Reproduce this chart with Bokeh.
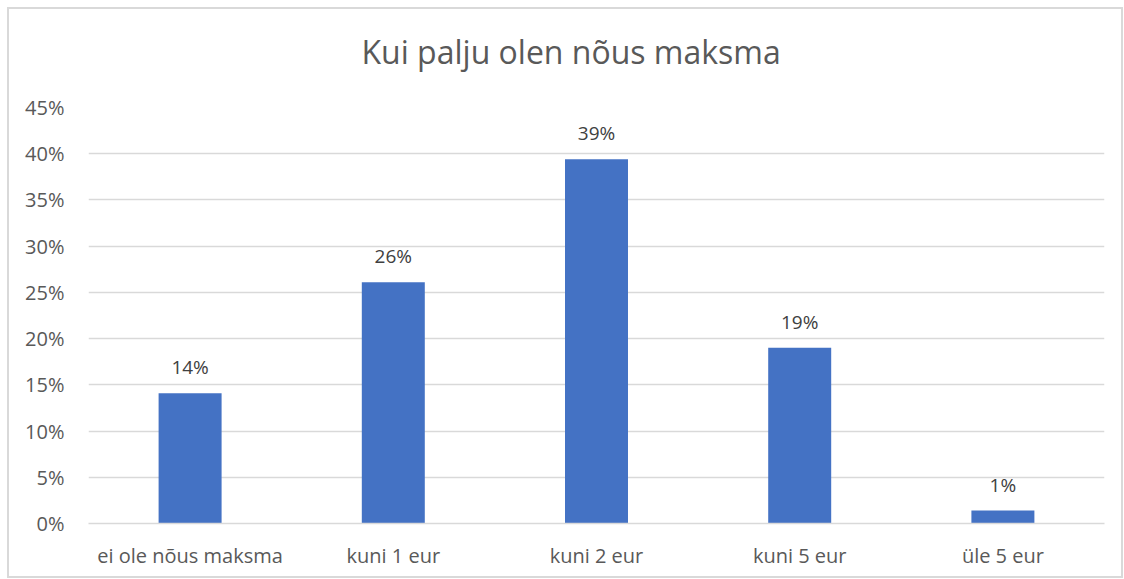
from bokeh.plotting import figure
from bokeh.models import ColumnDataSource, NumeralTickFormatter, FixedTicker, Range1d, Title
from bokeh.core.properties import value
from bokeh.embed import file_html
from bokeh.resources import INLINE

categories = ["ei ole nõus maksma", "kuni 1 eur", "kuni 2 eur", "kuni 5 eur", "üle 5 eur"]
shares = [0.141, 0.261, 0.394, 0.190, 0.014]
labels = ["14%", "26%", "39%", "19%", "1%"]
yticks = [0.0, 0.05, 0.10, 0.15, 0.20, 0.25, 0.30, 0.35, 0.40, 0.45]
title_text = "Kui palju olen nõus maksma"

FONT = "Open Sans"
src = ColumnDataSource(dict(cat=categories, val=shares, lab=labels))

p = figure(x_range=categories, y_range=Range1d(0, 0.45),
           width=1116, height=571, output_backend="svg", toolbar_location=None,
           min_border_left=79, min_border_right=21, min_border_top=98, min_border_bottom=57,
           title=title_text)
p.styles = {"border": "2px solid #D9D9D9", "box-sizing": "border-box",
            "margin-left": "7px", "margin-top": "7px"}

# empty spacer between the title and the plot frame
spacer = Title(text=" ", text_font_size="10px", standoff=22, text_color="#FFFFFF")
p.add_layout(spacer, "above")

p.title.align = "left"
p.title.text_font = FONT
p.title.text_font_size = "32px"
p.title.text_font_style = "normal"
p.title.text_color = "#595959"
p.title.offset = 273
p.title.standoff = 0

p.vbar(x="cat", top="val", width=0.31, source=src, color="#4472C4", line_color=None)
p.text(x="cat", y="val", text="lab", source=src, text_align="center", text_baseline="bottom",
       y_offset=-13, text_font=value(FONT), text_font_size="19px", text_color="#404040")

p.outline_line_color = None
p.xgrid.grid_line_color = None
p.ygrid.grid_line_color = "#D9D9D9"
p.ygrid.grid_line_width = 1.5
p.yaxis.ticker = FixedTicker(ticks=yticks)
p.yaxis.formatter = NumeralTickFormatter(format="0%")
p.yaxis.axis_line_color = None
p.yaxis.major_tick_line_color = None
p.yaxis.minor_tick_line_color = None
p.yaxis.major_label_standoff = 18
p.xaxis.axis_line_color = "#D9D9D9"
p.xaxis.axis_line_width = 1.5
p.xaxis.major_tick_line_color = None
p.xaxis.minor_tick_line_color = None
p.xaxis.major_label_standoff = 12
for ax in (p.xaxis, p.yaxis):
    ax.major_label_text_font = FONT
    ax.major_label_text_font_size = "20px"
    ax.major_label_text_color = "#595959"

open("out.html", "w").write(file_html(p, INLINE))
